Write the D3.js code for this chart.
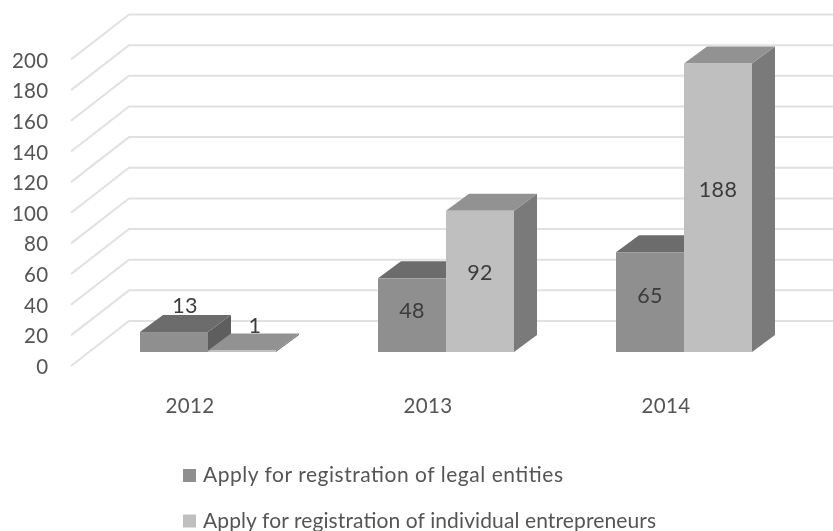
<!DOCTYPE html>
<html><head><meta charset="utf-8">
<script src="https://cdn.jsdelivr.net/npm/d3@7/dist/d3.min.js"></script>
<style>html,body{margin:0;padding:0;background:#fff}svg{display:block;filter:blur(.45px)}text{font-family:Lato,"Open Sans",sans-serif}</style>
</head><body><svg id="c" width="833" height="531"></svg>
<script>
const categories = ["2012","2013","2014"];
const seriesNames = ["Apply for registration of legal entities","Apply for registration of individual entrepreneurs"];
const legalEntities = [13,48,65];
const individualEntrepreneurs = [1,92,188];
const tickValues = [0,20,40,60,80,100,120,140,160,180,200];
const seriesColors = [{front:"#8f8f8f",top:"#6c6c6c",side:"#5e5e5e"},{front:"#bfbfbf",top:"#929292",side:"#7a7a7a"}];

const svg = d3.select("#c");
const y = d3.scaleLinear().domain([0,200]).range([366,59.5]);
const barH = d3.scaleLinear().domain([0,200]).range([0,307]);
const depth = {dx:58, dy:-45}, barDepth = {dx:23, dy:-17};
const baseY = 352, gridRight = 833;
const cat = d3.scalePoint().domain(categories).range([208,684]);
const barW = 68;

svg.append("g").selectAll("path").data(tickValues).join("path")
 .attr("fill","none").attr("stroke","#e1e1e1").attr("stroke-width",2)
 .attr("d",d=>{const p=d3.path();p.moveTo(71,y(d));p.lineTo(71+depth.dx,y(d)+depth.dy);p.lineTo(gridRight,y(d)+depth.dy);return p;});

const yAxis = d3.axisLeft(y).tickValues(tickValues).tickSize(0).tickPadding(0);
const ag = svg.append("g").attr("transform","translate(48.5,0)").call(yAxis);
ag.select(".domain").remove();
ag.selectAll("text").attr("font-size",20.5).attr("fill","#555555").attr("dy",".37em").style("letter-spacing","0.3px");

const rows = categories.flatMap((c,i)=>[
 {c,s:0,v:legalEntities[i]},{c,s:1,v:individualEntrepreneurs[i]}]);
const bars = svg.append("g").selectAll("g").data(rows).join("g");
function poly(pts){return d3.line()(pts)+"Z";}
bars.each(function(d){
 const g=d3.select(this),col=seriesColors[d.s];
 const xl=cat(d.c)+(d.s-1)*barW, xr=xl+barW, h=barH(d.v), t=baseY-h, dx=barDepth.dx, dy=barDepth.dy;
 g.append("path").attr("fill",col.side).attr("d",poly([[xr,baseY],[xr+dx,baseY+dy],[xr+dx,t+dy],[xr,t]]));
 g.append("path").attr("fill",col.top).attr("d",poly([[xl,t],[xl+dx,t+dy],[xr+dx,t+dy],[xr,t]]));
 g.append("rect").attr("x",xl).attr("y",t).attr("width",barW).attr("height",h).attr("fill",col.front);
});
svg.append("g").selectAll("text").data(rows).join("text")
 .attr("text-anchor","middle").attr("font-size",21.5).attr("fill","#3c3c3c").style("letter-spacing","0.3px")
 .attr("x",d=>cat(d.c)+(d.s-1)*barW+barW/2+(d.v<20?(d.v<5?13:11):0))
 .attr("y",d=>d.v<20?baseY-barH(d.v)-(d.v<5?17:19):baseY-barH(d.v)*0.56+7)
 .text(d=>d.v);
svg.append("g").selectAll("text").data(categories).join("text")
 .attr("x",d=>cat(d)-18).attr("y",412.5).attr("text-anchor","middle")
 .attr("font-size",20.5).attr("fill","#555555").style("letter-spacing","0.3px").text(d=>d);
const lg=svg.append("g").selectAll("g").data(seriesNames).join("g")
 .attr("transform",(d,i)=>`translate(183,${475.5+i*45.5})`);
lg.append("rect").attr("y",-6.5).attr("width",13).attr("height",13).attr("fill",(d,i)=>seriesColors[i].front);
lg.append("text").attr("x",20).attr("y",6.5).attr("font-size",21).attr("fill","#555555")
 .attr("textLength",(d,i)=>i?453:360).attr("lengthAdjust","spacing").text(d=>d);
</script></body></html>
